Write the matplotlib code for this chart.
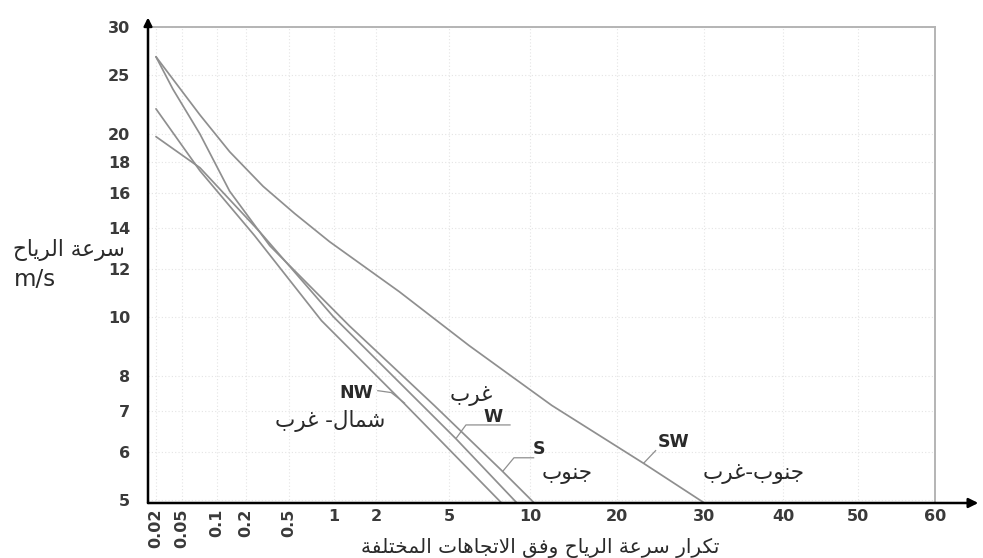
import numpy as np
import matplotlib
matplotlib.use("Agg")
import matplotlib.pyplot as plt

# ---------------- data ----------------
x_ticks = [0.02, 0.05, 0.1, 0.2, 0.5, 1, 2, 5, 10, 20, 30, 40, 50, 60]
x_tick_labels = ["0.02", "0.05", "0.1", "0.2", "0.5", "1", "2", "5", "10", "20", "30", "40", "50", "60"]
y_ticks = [5, 6, 7, 8, 10, 12, 14, 16, 18, 20, 25, 30]

sw_x = [0.02, 0.0715, 0.136, 0.29, 0.548, 0.94, 2.67, 5.93, 11.9, 22.6, 30.0]
sw_y = [26.8, 21.5, 18.7, 16.4, 14.8, 13.3, 11.0, 8.97, 7.15, 5.75, 4.95]

s_x = [0.02, 0.0364, 0.0715, 0.136, 0.334, 1.29, 4.14, 7.8, 10.3]
s_y = [26.8, 23.7, 20.0, 16.1, 13.1, 9.67, 7.15, 5.6, 4.95]

w_x = [0.02, 0.0715, 0.27, 1.0, 5.3, 8.9]
w_y = [19.8, 17.6, 13.8, 10.0, 6.3, 4.95]

nw_x = [0.02, 0.0715, 0.242, 0.83, 2.84, 7.8]
nw_y = [22.0, 17.4, 13.6, 9.86, 7.2, 4.95]

# ---------------- Arabic shaping helper ----------------
_FORMS = {
    'ا': ('\uFE8D', '\uFE8E', None, None),
    'ب': ('\uFE8F', '\uFE90', '\uFE91', '\uFE92'),
    'ة': ('\uFE93', '\uFE94', None, None),
    'ت': ('\uFE95', '\uFE96', '\uFE97', '\uFE98'),
    'ج': ('\uFE9D', '\uFE9E', '\uFE9F', '\uFEA0'),
    'ح': ('\uFEA1', '\uFEA2', '\uFEA3', '\uFEA4'),
    'خ': ('\uFEA5', '\uFEA6', '\uFEA7', '\uFEA8'),
    'ر': ('\uFEAD', '\uFEAE', None, None),
    'س': ('\uFEB1', '\uFEB2', '\uFEB3', '\uFEB4'),
    'ش': ('\uFEB5', '\uFEB6', '\uFEB7', '\uFEB8'),
    'ع': ('\uFEC9', '\uFECA', '\uFECB', '\uFECC'),
    'غ': ('\uFECD', '\uFECE', '\uFECF', '\uFED0'),
    'ف': ('\uFED1', '\uFED2', '\uFED3', '\uFED4'),
    'ق': ('\uFED5', '\uFED6', '\uFED7', '\uFED8'),
    'ك': ('\uFED9', '\uFEDA', '\uFEDB', '\uFEDC'),
    'ل': ('\uFEDD', '\uFEDE', '\uFEDF', '\uFEE0'),
    'م': ('\uFEE1', '\uFEE2', '\uFEE3', '\uFEE4'),
    'ن': ('\uFEE5', '\uFEE6', '\uFEE7', '\uFEE8'),
    'ه': ('\uFEE9', '\uFEEA', '\uFEEB', '\uFEEC'),
    'و': ('\uFEED', '\uFEEE', None, None),
    'ي': ('\uFEF1', '\uFEF2', '\uFEF3', '\uFEF4'),
    '\uFEFB': ('\uFEFB', '\uFEFC', None, None),
}


def ar(text):
    s = text.replace('لا', '\uFEFB')
    out = []
    n = len(s)
    for i, ch in enumerate(s):
        if ch not in _FORMS:
            out.append(ch)
            continue
        prev = s[i - 1] if i > 0 else None
        nxt = s[i + 1] if i < n - 1 else None
        jp = prev in _FORMS and _FORMS[prev][2] is not None
        jn = nxt in _FORMS and _FORMS[ch][2] is not None
        iso, fin, ini, med = _FORMS[ch]
        if jp and jn:
            out.append(med)
        elif jp:
            out.append(fin)
        elif jn:
            out.append(ini)
        else:
            out.append(iso)
    return ''.join(reversed(out))


# ---------------- custom x scale (graduations of the paper) ----------------
scale_vals = np.log10([0.01, 0.02, 0.05, 0.1, 0.2, 0.5, 1, 2, 5, 10, 20, 30, 40, 50, 60, 100])
scale_pos = np.array([136, 156, 182, 217, 246, 289, 334, 377, 450, 531, 618, 705, 785, 860, 937, 1250], float)


def fwd(v):
    v = np.asarray(v, float)
    return np.interp(np.log10(np.clip(v, 1e-4, None)), scale_vals, scale_pos)


def inv(p):
    p = np.asarray(p, float)
    return 10 ** np.interp(p, scale_pos, scale_vals)


# ---------------- figure ----------------
W, H = 983, 558
fig = plt.figure(figsize=(W / 100, H / 100), dpi=100)
L, R, T, B = 148, 935, 27, 503
ax = fig.add_axes([L / W, (H - B) / H, (R - L) / W, (B - T) / H])

ax.set_xscale('function', functions=(fwd, inv))
ax.set_yscale('log')
ax.set_xlim(inv(L), inv(R))
ax.set_ylim(4.94, 29.77)

line_kw = dict(color='#8f8f8f', lw=1.25, solid_capstyle='round', solid_joinstyle='round')
for xs, ys in [(sw_x, sw_y), (s_x, s_y), (w_x, w_y), (nw_x, nw_y)]:
    ax.plot(xs, ys, **line_kw)

num_font = dict(family='DejaVu Sans', size=11.5, color='#3a3a3a', weight='bold')
ax.set_xticks(x_ticks)
ax.set_xticklabels(x_tick_labels, **num_font)
for lab, v in zip(ax.get_xticklabels(), x_ticks):
    if v < 1:
        lab.set_rotation(90)
        lab.set_va('top')
ax.set_yticks(y_ticks)
ax.set_yticklabels([str(v) for v in y_ticks], **num_font)
ax.yaxis.set_minor_locator(matplotlib.ticker.NullLocator())
ax.xaxis.set_minor_locator(matplotlib.ticker.NullLocator())
ax.tick_params(axis='y', length=0, pad=13)
ax.tick_params(axis='x', length=0, pad=4)

ax.grid(True, which='major', color='#e4e4e4', lw=0.8, ls=(0, (1, 2)))

for sp in ['top', 'right']:
    ax.spines[sp].set_color('#b4b4b4')
    ax.spines[sp].set_linewidth(1.4)
ax.spines['left'].set_visible(False)
ax.spines['bottom'].set_visible(False)

# axes with arrows
ax.annotate('', xy=(0, 1.02), xytext=(0, 0), xycoords='axes fraction',
            arrowprops=dict(arrowstyle='-|>', color='black', lw=1.8, mutation_scale=12,
                            shrinkA=0, shrinkB=0))
ax.annotate('', xy=(1.055, 0), xytext=(0, 0), xycoords='axes fraction',
            arrowprops=dict(arrowstyle='-|>', color='black', lw=1.8, mutation_scale=14,
                            shrinkA=0, shrinkB=0))

# ---------------- annotations ----------------
lat = dict(family='DejaVu Sans', size=12.5, color='#2a2a2a', weight='bold')
arf = dict(family=['DejaVu Sans'], size=15.5, color='#2a2a2a')
tr = ax.transAxes
con = dict(color='#8f8f8f', lw=0.9, transform=tr, clip_on=False)

ax.text(0.265, 0.231, 'NW', ha='center', va='center', transform=tr, **lat)
ax.text(0.231, 0.172, ar('شمال- غرب'), ha='center', va='center', transform=tr, **arf)
ax.plot([0.292, 0.309, 0.326], [0.236, 0.232, 0.210], **con)

ax.text(0.411, 0.225, ar('غرب'), ha='center', va='center', transform=tr, **arf)
ax.text(0.438, 0.181, 'W', ha='center', va='center', transform=tr, **lat)
ax.plot([0.460, 0.404, 0.392], [0.164, 0.164, 0.137], **con)

ax.text(0.497, 0.113, 'S', ha='center', va='center', transform=tr, **lat)
ax.text(0.532, 0.061, ar('جنوب'), ha='center', va='center', transform=tr, **arf)
ax.plot([0.490, 0.465, 0.451], [0.095, 0.095, 0.067], **con)

ax.text(0.668, 0.128, 'SW', ha='center', va='center', transform=tr, **lat)
ax.text(0.769, 0.061, ar('جنوب-غرب'), ha='center', va='center', transform=tr, **arf)
ax.plot([0.630, 0.645], [0.084, 0.110], **con)

# axis titles
fig.text(13 / W, 1 - 250 / H, ar('سرعة الرياح'), ha='left', va='center',
         family=['DejaVu Sans'], size=15.5, color='#2a2a2a')
fig.text(14 / W, 1 - 280 / H, 'm/s', ha='left', va='center',
         family='DejaVu Sans', size=16.5, color='#2a2a2a')
fig.text(540 / W, 1 - 548 / H, ar('تكرار سرعة الرياح وفق الاتجاهات المختلفة'),
         ha='center', va='center', family=['DejaVu Sans'], size=14.5, color='#2a2a2a')

fig.savefig('out.png', dpi=100)
